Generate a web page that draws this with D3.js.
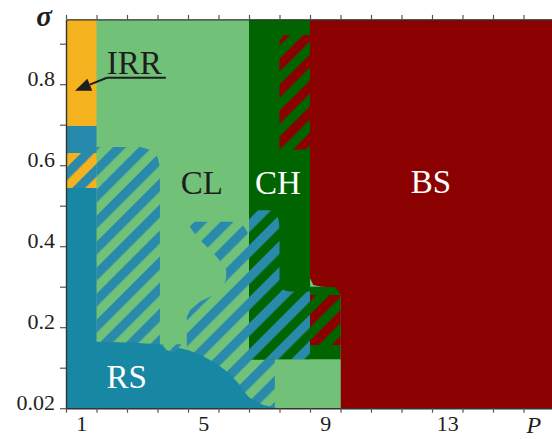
<!DOCTYPE html>
<html>
<head>
<meta charset="utf-8">
<script src="https://cdn.jsdelivr.net/npm/d3@7/dist/d3.min.js"></script>
<style>
  html, body { margin: 0; padding: 0; background: #fff; }
  svg { display: block; }
  text { font-family: "Liberation Serif", "Times New Roman", serif; }
</style>
</head>
<body>
<svg id="chart" width="552" height="439"></svg>
<script>
// ---------- axis data ----------
const xTickVals = [0.5,1.5,2.5,3.5,4.5,5.5,6.5,7.5,8.5,9.5,10.5,11.5,12.5,13.5,14.5,15.5,16.5];
const xLabelVals = [1, 5, 9, 13];
const xLabelText = ["1", "5", "9", "13"];
const yTickVals = [0, 0.1, 0.2, 0.3, 0.4, 0.5, 0.6, 0.7, 0.8, 0.9];
const yTickLabels = ["0.02", "", "0.2", "", "0.4", "", "0.6", "", "0.8", ""];

// ---------- regions (P, sigma) ----------
const irr      = [[0.5,0.697],[1.5,0.697],[1.5,0.96],[0.5,0.96]];
const rsUpper  = [[0.5,0.63],[1.5,0.63],[1.5,0.697],[0.5,0.697]];
const irrRs    = [[0.5,0.544],[1.5,0.544],[1.5,0.63],[0.5,0.63]];
const rs       = [[0.5,0],[0.5,0.544],[1.5,0.544],[1.5,0.164],[2.5,0.162],[3.58,0.158],[4.5,0.144],
                  [5.0,0.128],[5.44,0.110],[5.75,0.092],[6.0,0.074],[6.2,0.057],[6.35,0.040],
                  [6.5,0.027],[6.75,0.015],[7.0,0.007],[7.35,0.002],[7.35,0]];
const clRsLeft = [[1.5,0.10],[1.5,0.645],[2.93,0.645],[3.26,0.638],[3.50,0.620],[3.58,0.595],[3.58,0.10]];
const clRsRight= [[4.49,0.4605],[5.98,0.4605],[6.30,0.452],[6.43,0.4375],[6.5,0.42],[6.5,0.12],
                  [7.35,0.12],[7.35,0],[4.46,0],[4.46,0.225],[4.57,0.2425],[4.89,0.263],[5.39,0.282],
                  [5.65,0.299],[5.75,0.3215],[5.75,0.341],[5.44,0.374],[5.11,0.399],[4.79,0.4235],[4.57,0.447]];
const clRsBump = [[3.64,0.158],[4.29,0.158],[4.18,0.148],[4.02,0.137],[3.80,0.144]];
const ch       = [[6.5,0.96],[8.5,0.96],[8.5,0.30],[9.5,0.30],[9.5,0.12],[6.5,0.12]];
const chRs     = [[6.5,0.489],[7.19,0.489],[7.39,0.482],[7.47,0.465],[7.5,0.445],[7.5,0.309],
                  [7.58,0.294],[7.78,0.288],[8.5,0.288],[8.5,0.12],[6.5,0.12]];
const bs       = [[8.5,0.96],[16.5,0.96],[16.5,0],[9.5,0],[9.5,0.2795],[9.46,0.2877],[9.32,0.2985],
                  [8.88,0.300],[8.61,0.304],[8.5,0.321]];
const chBsTop  = [[7.5,0.639],[8.5,0.639],[8.5,0.9215],[7.63,0.9215],[7.5,0.905]];
const chBsLow  = [[8.5,0.156],[9.5,0.156],[9.5,0.2795],[8.5,0.2795]];
const clSquare = [[7.35,0],[9.5,0],[9.5,0.12],[7.35,0.12]];

// ---------- labels ----------
const regionLabels = [
  {text:"IRR", P:1.84, s:0.825, color:"#1e1e1e"},
  {text:"CL",  P:4.26, s:0.529, color:"#1e1e1e"},
  {text:"CH",  P:6.70, s:0.529, color:"#ffffff"},
  {text:"BS",  P:11.80, s:0.531, color:"#ffffff"},
  {text:"RS",  P:1.83, s:0.049, color:"#ffffff"}
];
const irrArrow = {from:[1.84,0.816], to:[0.795,0.784]};

// ---------- colours ----------
const C = {
  cl: "#71c278", ch: "#006400", bs: "#8b0000", irr: "#f4b21f",
  rs: "#1887a4", rsUp: "#2589ab", hatchBlue: "#2a8aab"
};

const W = 552, H = 439;
const x = d3.scaleLinear().domain([0.5, 16.5]).range([66, 554]);
const y = d3.scaleLinear().domain([0, 0.96]).range([408.2, 19.4]);

const svg = d3.select("#chart");
const defs = svg.append("defs");

function stripes(id, bg, fg) {
  const p = defs.append("pattern").attr("id", id)
    .attr("patternUnits", "userSpaceOnUse")
    .attr("width", 18.4).attr("height", 18.4)
    .attr("patternTransform", "rotate(45)");
  p.append("rect").attr("width", 18.4).attr("height", 18.4).attr("fill", bg);
  p.append("rect").attr("width", 9.2).attr("height", 18.4).attr("fill", fg);
}
stripes("hClRs", C.cl, C.hatchBlue);
stripes("hChRs", C.ch, C.hatchBlue);
stripes("hChBs", C.ch, C.bs);
stripes("hIrrRs", C.irr, C.hatchBlue);

defs.append("clipPath").attr("id", "plotClip").append("rect")
  .attr("x", x(0.5)).attr("y", y(0.96)).attr("width", x(16.5) - x(0.5)).attr("height", y(0) - y(0.96));

const line = d3.line().x(d => x(d[0])).y(d => y(d[1])).curve(d3.curveLinearClosed);
const plot = svg.append("g").attr("clip-path", "url(#plotClip)");

// background CL
plot.append("path").attr("d", line([[0.5,0],[16.5,0],[16.5,0.96],[0.5,0.96]])).attr("fill", C.cl);

const layers = [
  [clRsLeft, "url(#hClRs)"],
  [clRsRight, "url(#hClRs)"],
  [rs, C.rs],
  [clRsBump, "url(#hClRs)"],
  [irr, C.irr],
  [rsUpper, C.rsUp],
  [irrRs, "url(#hIrrRs)"],
  [ch, C.ch],
  [chRs, "url(#hChRs)"],
  [bs, C.bs],
  [chBsTop, "url(#hChBs)"],
  [chBsLow, "url(#hChBs)"],
  [clSquare, C.cl]
];
plot.selectAll("path.region").data(layers).enter().append("path")
  .attr("class", "region")
  .attr("d", d => line(d[0]))
  .attr("fill", d => d[1]);

// region labels
svg.selectAll("text.rlab").data(regionLabels).enter().append("text")
  .attr("class", "rlab")
  .attr("x", d => x(d.P)).attr("y", d => y(d.s))
  .attr("font-size", 33).attr("fill", d => d.color)
  .text(d => d.text);

// IRR underline + arrow
const irrLab = regionLabels[0];
svg.append("line")
  .attr("x1", x(irrLab.P)).attr("x2", x(irrLab.P) + 59)
  .attr("y1", y(irrArrow.from[1])).attr("y2", y(irrArrow.from[1]))
  .attr("stroke", "#1e1e1e").attr("stroke-width", 2);
(function () {
  const x1 = x(irrArrow.from[0]), y1 = y(irrArrow.from[1]);
  const x2 = x(irrArrow.to[0]),   y2 = y(irrArrow.to[1]);
  const ang = Math.atan2(y2 - y1, x2 - x1);
  const L = 16, Wd = 6.5;
  const bx = x2 - L * Math.cos(ang), by = y2 - L * Math.sin(ang);
  svg.append("line").attr("x1", x1).attr("y1", y1).attr("x2", bx).attr("y2", by)
    .attr("stroke", "#1e1e1e").attr("stroke-width", 2);
  const p1 = [bx + Wd * Math.sin(ang), by - Wd * Math.cos(ang)];
  const p2 = [bx - Wd * Math.sin(ang), by + Wd * Math.cos(ang)];
  svg.append("path").attr("d", `M${x2},${y2}L${p1[0]},${p1[1]}L${p2[0]},${p2[1]}Z`)
    .attr("fill", "#1e1e1e");
})();

// ---------- axes ----------
function styleAxis(g) {
  g.select(".domain").attr("stroke", "#333").attr("stroke-width", 1.4);
  g.selectAll(".tick line").attr("stroke", "#555").attr("stroke-width", 1.2);
  g.selectAll(".tick text").attr("fill", "#1e1e1e").attr("font-size", 22)
    .attr("font-family", "'Liberation Serif','Times New Roman',serif");
}
svg.append("g").attr("transform", `translate(0,${y(0.96)})`)
  .call(d3.axisTop(x).tickValues(xTickVals).tickSize(4.5).tickSizeOuter(0).tickFormat(""))
  .call(styleAxis);
svg.append("g").attr("transform", `translate(0,${y(0)})`)
  .call(d3.axisBottom(x).tickValues(xTickVals).tickSize(4.5).tickSizeOuter(0).tickFormat(""))
  .call(styleAxis);
const xl = svg.append("g").attr("transform", `translate(0,${y(0)})`)
  .call(d3.axisBottom(x).tickValues(xLabelVals).tickSize(0).tickPadding(7)
        .tickFormat((d, i) => xLabelText[i]))
  .call(styleAxis);
xl.select(".domain").remove();
const yl = svg.append("g").attr("transform", `translate(${x(0.5)},0)`)
  .call(d3.axisLeft(y).tickValues(yTickVals).tickSize(6).tickSizeOuter(0).tickPadding(5)
        .tickFormat((d, i) => yTickLabels[i]))
  .call(styleAxis);
yl.selectAll(".tick text").attr("dy", "1");

// axis titles
svg.append("text").attr("x", x(15.84)).attr("y", 433)
  .attr("text-anchor", "middle").attr("font-size", 24).attr("font-style", "italic")
  .attr("fill", "#1e1e1e").text("P");
svg.append("text").attr("x", 44).attr("y", 26)
  .attr("text-anchor", "middle").attr("font-size", 29).attr("font-style", "italic")
  .attr("font-weight", "bold").attr("fill", "#1e1e1e").text("σ");
</script>
</body>
</html>
